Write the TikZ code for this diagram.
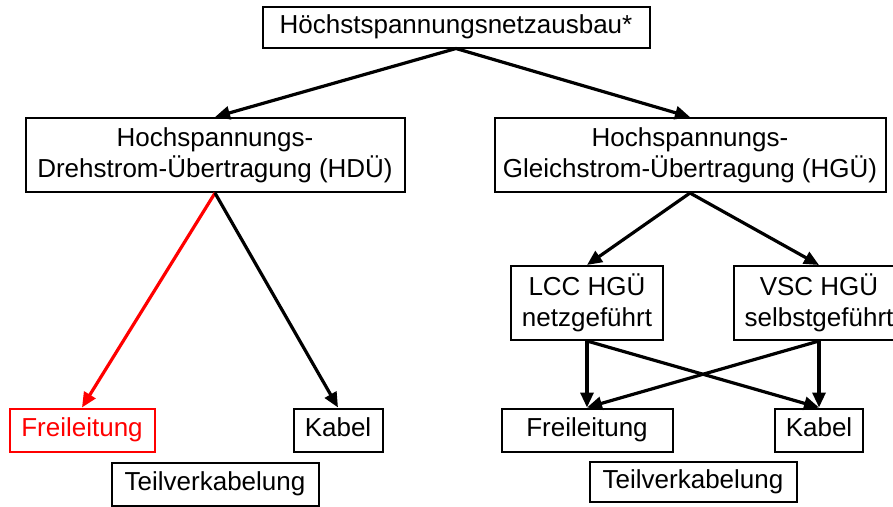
\documentclass[tikz,border=0pt]{standalone}
\usepackage{fontspec}
\setmainfont{Liberation Sans}
\usetikzlibrary{arrows.meta}

\begin{document}
\begin{tikzpicture}[
      x=1pt, y=-1pt,
      font=\fontsize{26}{31}\selectfont,
      box/.style={draw, line width=2pt, align=center, inner sep=2pt, minimum height=74pt},
      leaf/.style={draw, line width=2pt, inner sep=2pt, minimum height=43pt,
                   text height=19pt, text depth=6pt},
      arr/.style={-{Triangle[length=15pt, width=13pt]}, line width=3.2pt},
    ]
    \useasboundingbox (0,0) rectangle (893,506);

    % Top level
    \node[leaf, minimum width=387pt, minimum height=41pt] (netz) at (456,27) {Höchstspannungsnetzausbau*};

    % Drehstrom branch
    \node[box, minimum width=379pt] (hdue) at (215,155) {Hochspannungs-\\Drehstrom-Übertragung (HDÜ)};
    \node[leaf, minimum width=145pt, draw=red, text=red] (frei1) at (82,430) {Freileitung};
    \node[leaf, minimum width=89pt] (kab1) at (338,430) {Kabel};
    \node[leaf, minimum width=207pt] (teil1) at (215,484) {Teilverkabelung};

    % Gleichstrom branch
    \node[box, minimum width=391pt] (hgue) at (690,155) {Hochspannungs-\\Gleichstrom-Übertragung (HGÜ)};
    \node[box, minimum width=152pt] (lcc) at (587,303) {LCC HGÜ\\netzgeführt};
    \node[box, minimum width=170pt] (vsc) at (819,303) {VSC HGÜ\\selbstgeführt};
    \node[leaf, minimum width=171pt] (frei2) at (587,430) {Freileitung};
    \node[leaf, minimum width=88pt] (kab2) at (819,430) {Kabel};
    \node[leaf, minimum width=207pt, minimum height=40pt] (teil2) at (693,482) {Teilverkabelung};

    % Connections
    \draw[arr] (netz.south) -- (hdue.north);
    \draw[arr] (netz.south) -- (hgue.north);
    \draw[arr, red] (hdue.south) -- (frei1.north);
    \draw[arr] (hdue.south) -- (kab1.north);
    \draw[arr] (hgue.south) -- (lcc.north);
    \draw[arr] (hgue.south) -- (vsc.north);
    \draw[arr] (lcc.south) -- (frei2.north);
    \draw[arr] (lcc.south) -- (kab2.north);
    \draw[arr] (vsc.south) -- (kab2.north);
    \draw[arr] (vsc.south) -- (frei2.north);
  \end{tikzpicture}
\end{document}
